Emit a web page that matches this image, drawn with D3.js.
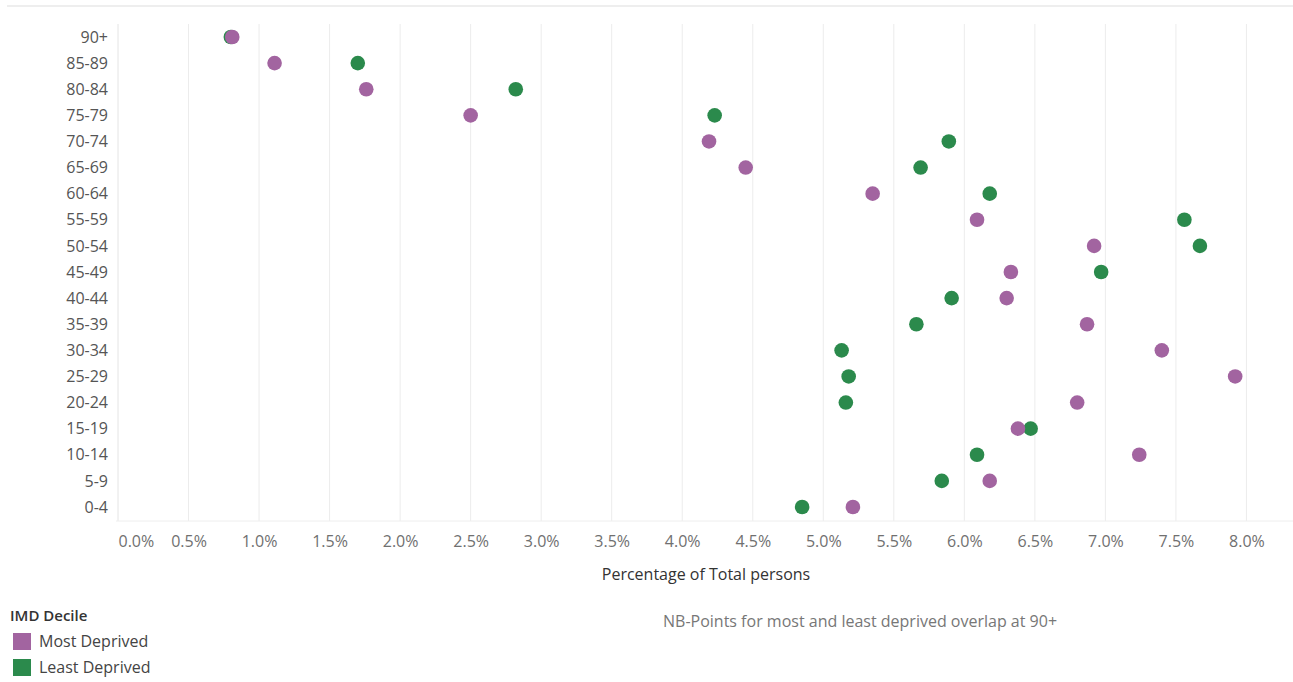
<!DOCTYPE html>
<html>
<head>
<meta charset="utf-8">
<script src="https://cdn.jsdelivr.net/npm/d3@7"></script>
<style>
  body { margin: 0; background: #fff; font-family: "Open Sans", sans-serif; }
  svg text { font-family: "Open Sans", sans-serif; }
</style>
</head>
<body>
<div id="chart"></div>
<script>
// age bands, top to bottom
const ageBands = ["90+", "85-89", "80-84", "75-79", "70-74", "65-69", "60-64", "55-59", "50-54",
  "45-49", "40-44", "35-39", "30-34", "25-29", "20-24", "15-19", "10-14", "5-9", "0-4"];

// percentage of total persons, same order as ageBands
const leastDeprived = [0.80, 1.70, 2.82, 4.23, 5.89, 5.69, 6.18, 7.56, 7.67,
  6.97, 5.91, 5.66, 5.13, 5.18, 5.16, 6.47, 6.09, 5.84, 4.85];
const mostDeprived = [0.81, 1.11, 1.76, 2.50, 4.19, 4.45, 5.35, 6.09, 6.92,
  6.33, 6.30, 6.87, 7.40, 7.92, 6.80, 6.38, 7.24, 6.18, 5.21];

const xTicks = [0, 0.5, 1, 1.5, 2, 2.5, 3, 3.5, 4, 4.5, 5, 5.5, 6, 6.5, 7, 7.5, 8];

const legendLabels = ["Most Deprived", "Least Deprived"];

const purple = '#a264a0',
  green = '#2b8a4c';

const width = 1293, height = 682;

const svg = d3.select('#chart').append('svg')
  .attr('width', width)
  .attr('height', height);

// top separator line
svg.append('line')
  .attr('x1', 7).attr('x2', width)
  .attr('y1', 6).attr('y2', 6)
  .attr('stroke', '#eeeeee')
  .attr('stroke-width', 2);

const x = d3.scaleLinear().domain([0, 8.33]).range([118, 1293]);
const y = d3.scalePoint().domain(ageBands).range([37, 507]);

const paneTop = 24, paneBottom = 521;

// gridlines
svg.append('g').selectAll('line')
  .data(xTicks)
  .join('line')
  .attr('x1', d => x(d)).attr('x2', d => x(d))
  .attr('y1', paneTop).attr('y2', paneBottom)
  .attr('stroke', d => d == 0 ? '#e4e4e4' : '#ececec')
  .attr('stroke-width', 1);

// bottom pane border
svg.append('line')
  .attr('x1', 116).attr('x2', width)
  .attr('y1', paneBottom).attr('y2', paneBottom)
  .attr('stroke', '#eeeeee');

// x axis labels
const xAxis = d3.axisBottom(x)
  .tickValues(xTicks)
  .tickSize(0)
  .tickPadding(0)
  .tickFormat(d => d3.format('.1f')(d) + '%');

const gx = svg.append('g')
  .attr('transform', 'translate(0,' + 536 + ')')
  .call(xAxis);
gx.select('.domain').remove();
gx.selectAll('text')
  .attr('fill', '#707070')
  .style('font-size', '16px')
  .attr('dy', '0.71em');
// first label is pushed inside the pane like Tableau does
gx.selectAll('.tick').filter(d => d == 0).select('text')
  .attr('text-anchor', 'start');

// y axis labels
const yAxis = d3.axisLeft(y).tickSize(0).tickPadding(0);
const gy = svg.append('g')
  .attr('transform', 'translate(108,0)')
  .call(yAxis);
gy.select('.domain').remove();
gy.selectAll('text')
  .attr('fill', '#555')
  .style('font-size', '16px');

// axis title
svg.append('text')
  .attr('x', 706).attr('y', 580)
  .attr('text-anchor', 'middle')
  .attr('fill', '#333')
  .style('font-size', '16px')
  .text('Percentage of Total persons');

// dots: least deprived first so most deprived sits on top at 90+
const dots = svg.append('g');
dots.selectAll('circle.least')
  .data(ageBands)
  .join('circle')
  .attr('class', 'least')
  .attr('cx', (d, i) => x(leastDeprived[i]))
  .attr('cy', d => y(d))
  .attr('r', 7.3)
  .attr('fill', green);

dots.selectAll('circle.most')
  .data(ageBands)
  .join('circle')
  .attr('class', 'most')
  .attr('cx', (d, i) => x(mostDeprived[i]))
  .attr('cy', d => y(d))
  .attr('r', 7.3)
  .attr('fill', purple);

// legend
svg.append('text')
  .attr('x', 10).attr('y', 621)
  .attr('fill', '#333')
  .style('font-size', '15px')
  .style('font-weight', '600')
  .text('IMD Decile');

const legend = svg.append('g').selectAll('g')
  .data(legendLabels)
  .join('g')
  .attr('transform', (d, i) => 'translate(13,' + (633 + i * 26) + ')');
legend.append('rect')
  .attr('width', 18).attr('height', 17)
  .attr('fill', (d, i) => i == 0 ? purple : green);
legend.append('text')
  .attr('x', 26).attr('y', 14)
  .attr('fill', '#444')
  .style('font-size', '16px')
  .text(d => d);

// note
svg.append('text')
  .attr('x', 663).attr('y', 627)
  .attr('fill', '#777')
  .style('font-size', '16px')
  .text('NB-Points for most and least deprived overlap at 90+');
</script>
</body>
</html>
